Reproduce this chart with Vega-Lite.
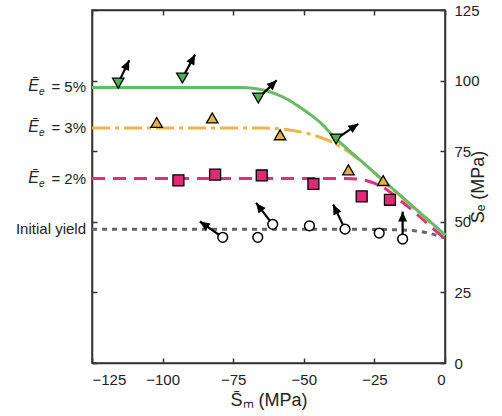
{
  "$schema": "https://vega.github.io/schema/vega-lite/v6.json",
  "width": 353,
  "height": 353,
  "autosize": "none",
  "padding": {"left": 92, "top": 10, "right": 57, "bottom": 53},
  "config": {
    "font": "Liberation Sans",
    "view": {"stroke": "#333333", "strokeWidth": 1.5},
    "axis": {"grid": false, "domainColor": "#333333", "domainWidth": 1.5, "tickColor": "#333333", "tickWidth": 1.5, "labelColor": "#222222", "titleColor": "#222222", "labelFontSize": 15, "titleFontSize": 18, "titleFontWeight": "normal"}
  },
  "datasets": {
    "curves": [
      {"series": "initial", "x": -125, "y": 47.4},
      {"series": "initial", "x": -100, "y": 47.4},
      {"series": "initial", "x": -75, "y": 47.4},
      {"series": "initial", "x": -50, "y": 47.4},
      {"series": "initial", "x": -25, "y": 47.3},
      {"series": "initial", "x": -15, "y": 47.1},
      {"series": "initial", "x": -10, "y": 46.7},
      {"series": "initial", "x": -5, "y": 45.8},
      {"series": "initial", "x": 0, "y": 44.2},
      {"series": "2%", "x": -125, "y": 65.3},
      {"series": "2%", "x": -75, "y": 65.3},
      {"series": "2%", "x": -35, "y": 65.3},
      {"series": "2%", "x": -30, "y": 65.0},
      {"series": "2%", "x": -26, "y": 64.0},
      {"series": "2%", "x": -22, "y": 62.3},
      {"series": "2%", "x": -19, "y": 60.2},
      {"series": "2%", "x": -17, "y": 58.5},
      {"series": "2%", "x": -13, "y": 55.3},
      {"series": "2%", "x": -9, "y": 51.9},
      {"series": "2%", "x": -4, "y": 47.4},
      {"series": "2%", "x": 0, "y": 44.0},
      {"series": "3%", "x": -125, "y": 83.2},
      {"series": "3%", "x": -90, "y": 83.2},
      {"series": "3%", "x": -65, "y": 83.2},
      {"series": "3%", "x": -60, "y": 83.0},
      {"series": "3%", "x": -55, "y": 82.5},
      {"series": "3%", "x": -50, "y": 81.6},
      {"series": "3%", "x": -45, "y": 80.2},
      {"series": "3%", "x": -40, "y": 78.2},
      {"series": "3%", "x": -36, "y": 76.0},
      {"series": "3%", "x": -32, "y": 73.2},
      {"series": "3%", "x": -28, "y": 70.0},
      {"series": "3%", "x": -20, "y": 62.8},
      {"series": "3%", "x": -10, "y": 54.0},
      {"series": "3%", "x": 0, "y": 45.2},
      {"series": "5%", "x": -125, "y": 97.6},
      {"series": "5%", "x": -100, "y": 97.6},
      {"series": "5%", "x": -72, "y": 97.6},
      {"series": "5%", "x": -68, "y": 97.3},
      {"series": "5%", "x": -64, "y": 96.6},
      {"series": "5%", "x": -60, "y": 95.3},
      {"series": "5%", "x": -56, "y": 93.5},
      {"series": "5%", "x": -52, "y": 91.0},
      {"series": "5%", "x": -48, "y": 88.2},
      {"series": "5%", "x": -44, "y": 85.0},
      {"series": "5%", "x": -40, "y": 80.8},
      {"series": "5%", "x": -30, "y": 71.8},
      {"series": "5%", "x": -20, "y": 63.0},
      {"series": "5%", "x": -10, "y": 54.2},
      {"series": "5%", "x": 0, "y": 45.4}
    ],
    "markers": [
      {"series": "5%", "x": -115.7, "y": 99.1},
      {"series": "5%", "x": -93.0, "y": 100.9},
      {"series": "5%", "x": -66.1, "y": 93.8},
      {"series": "5%", "x": -38.6, "y": 79.3},
      {"series": "3%", "x": -102.1, "y": 85.2},
      {"series": "3%", "x": -82.4, "y": 86.8},
      {"series": "3%", "x": -58.4, "y": 80.8},
      {"series": "3%", "x": -34.2, "y": 68.4},
      {"series": "3%", "x": -21.9, "y": 64.6},
      {"series": "2%", "x": -94.4, "y": 64.7},
      {"series": "2%", "x": -81.4, "y": 66.7},
      {"series": "2%", "x": -64.9, "y": 66.4},
      {"series": "2%", "x": -46.6, "y": 63.4},
      {"series": "2%", "x": -29.5, "y": 59.0},
      {"series": "2%", "x": -19.5, "y": 57.8},
      {"series": "initial", "x": -78.7, "y": 44.5},
      {"series": "initial", "x": -66.3, "y": 44.5},
      {"series": "initial", "x": -61.0, "y": 49.1},
      {"series": "initial", "x": -48.0, "y": 48.6},
      {"series": "initial", "x": -35.4, "y": 47.4},
      {"series": "initial", "x": -23.3, "y": 46.0},
      {"series": "initial", "x": -15.0, "y": 43.9}
    ],
    "arrows": [
      {"x": -115.7, "y": 99.1, "x2": -111.8, "y2": 107.2},
      {"x": -93.0, "y": 100.9, "x2": -88.5, "y2": 109.2},
      {"x": -66.1, "y": 93.8, "x2": -59.6, "y2": 100.1},
      {"x": -38.6, "y": 79.3, "x2": -30.7, "y2": 84.7},
      {"x": -78.7, "y": 44.5, "x2": -86.8, "y2": 50.1},
      {"x": -61.0, "y": 49.1, "x2": -66.9, "y2": 56.7},
      {"x": -35.4, "y": 47.4, "x2": -39.6, "y2": 56.1},
      {"x": -15.0, "y": 43.9, "x2": -15.0, "y2": 53.6}
    ],
    "labels": [
      {"x": -125, "y": 97.6, "text": "= 5%", "sym": "Ē", "sub": "e"},
      {"x": -125, "y": 83.2, "text": "= 3%", "sym": "Ē", "sub": "e"},
      {"x": -125, "y": 65.3, "text": "= 2%", "sym": "Ē", "sub": "e"},
      {"x": -125, "y": 47.4, "text": "Initial yield", "sym": "", "sub": ""}
    ]
  },
  "data": {"name": "curves"},
  "layer": [
    {
      "transform": [{"filter": "datum.series === 'initial'"}],
      "mark": {"type": "line", "color": "#666666", "strokeWidth": 3, "strokeDash": [5, 5], "interpolate": "monotone"},
      "encoding": {
        "x": {"field": "x", "type": "quantitative", "scale": {"domain": [-125, 0], "nice": false},
          "axis": {"orient": "bottom", "title": "S̄ₘ (MPa)", "values": [-125, -100, -75, -50, -25, 0], "tickSize": -5, "labelPadding": 14, "titlePadding": 4}},
        "y": {"field": "y", "type": "quantitative", "scale": {"domain": [0, 125], "nice": false},
          "axis": {"orient": "right", "title": "S̄ₑ (MPa)", "titleAngle": -90, "values": [0, 25, 50, 75, 100, 125], "tickSize": -5, "labelPadding": 14, "titlePadding": 8}}
      }
    },
    {
      "transform": [{"filter": "datum.series === '2%'"}],
      "mark": {"type": "line", "color": "#e0307c", "strokeWidth": 3, "strokeDash": [13, 8], "interpolate": "monotone"},
      "encoding": {
        "x": {"field": "x", "type": "quantitative", "axis": {"orient": "top", "labels": false, "title": null, "values": [-125, -100, -75, -50, -25, 0], "tickSize": -5}},
        "y": {"field": "y", "type": "quantitative", "axis": {"orient": "left", "labels": false, "title": null, "values": [0, 25, 50, 75, 100, 125], "tickSize": -5}}
      }
    },
    {
      "transform": [{"filter": "datum.series === '3%'"}],
      "mark": {"type": "line", "color": "#ebb64c", "strokeWidth": 3, "strokeDash": [18, 5, 4, 5], "interpolate": "monotone"},
      "encoding": {
        "x": {"field": "x", "type": "quantitative", "axis": null},
        "y": {"field": "y", "type": "quantitative", "axis": null}
      }
    },
    {
      "transform": [{"filter": "datum.series === '5%'"}],
      "mark": {"type": "line", "color": "#66bb66", "strokeWidth": 3, "interpolate": "monotone"},
      "encoding": {
        "x": {"field": "x", "type": "quantitative", "axis": null},
        "y": {"field": "y", "type": "quantitative", "axis": null}
      }
    },
    {
      "data": {"name": "arrows"},
      "mark": {"type": "rule", "color": "#000000", "strokeWidth": 2.2},
      "encoding": {
        "x": {"field": "x", "type": "quantitative", "axis": null},
        "y": {"field": "y", "type": "quantitative", "axis": null},
        "x2": {"field": "x2"},
        "y2": {"field": "y2"}
      }
    },
    {
      "data": {"name": "arrows"},
      "transform": [{"calculate": "atan2(datum.x2 - datum.x, datum.y2 - datum.y) * 180 / PI", "as": "ang"}],
      "mark": {"type": "point", "shape": "M0,0L1,2.2L-1,2.2Z", "filled": true, "color": "#000000", "opacity": 1, "size": 80},
      "encoding": {
        "x": {"field": "x2", "type": "quantitative", "axis": null},
        "y": {"field": "y2", "type": "quantitative", "axis": null},
        "angle": {"field": "ang", "type": "quantitative", "scale": null}
      }
    },
    {
      "data": {"name": "markers"},
      "transform": [{"filter": "datum.series === 'initial'"}],
      "mark": {"type": "point", "shape": "circle", "filled": true, "fill": "#ffffff", "stroke": "#000000", "strokeWidth": 1.5, "opacity": 1, "size": 95},
      "encoding": {
        "x": {"field": "x", "type": "quantitative", "axis": null},
        "y": {"field": "y", "type": "quantitative", "axis": null}
      }
    },
    {
      "data": {"name": "markers"},
      "transform": [{"filter": "datum.series === '2%'"}],
      "mark": {"type": "point", "shape": "square", "filled": true, "fill": "#e02a78", "stroke": "#000000", "strokeWidth": 1.3, "opacity": 1, "size": 120},
      "encoding": {
        "x": {"field": "x", "type": "quantitative", "axis": null},
        "y": {"field": "y", "type": "quantitative", "axis": null}
      }
    },
    {
      "data": {"name": "markers"},
      "transform": [{"filter": "datum.series === '3%'"}],
      "mark": {"type": "point", "shape": "triangle-up", "filled": true, "fill": "#e8b040", "stroke": "#000000", "strokeWidth": 1.3, "opacity": 1, "size": 130},
      "encoding": {
        "x": {"field": "x", "type": "quantitative", "axis": null},
        "y": {"field": "y", "type": "quantitative", "axis": null}
      }
    },
    {
      "data": {"name": "markers"},
      "transform": [{"filter": "datum.series === '5%'"}],
      "mark": {"type": "point", "shape": "triangle-down", "filled": true, "fill": "#4cb050", "stroke": "#000000", "strokeWidth": 1.3, "opacity": 1, "size": 130},
      "encoding": {
        "x": {"field": "x", "type": "quantitative", "axis": null},
        "y": {"field": "y", "type": "quantitative", "axis": null}
      }
    },
    {
      "data": {"name": "labels"},
      "mark": {"type": "text", "align": "right", "baseline": "middle", "dx": -6, "fontSize": 15, "color": "#222222", "clip": false},
      "encoding": {
        "x": {"field": "x", "type": "quantitative", "axis": null},
        "y": {"field": "y", "type": "quantitative", "axis": null},
        "text": {"field": "text"}
      }
    },
    {
      "data": {"name": "labels"},
      "mark": {"type": "text", "align": "right", "baseline": "middle", "dx": -53, "dy": -1, "fontSize": 16, "fontStyle": "italic", "color": "#222222"},
      "encoding": {
        "x": {"field": "x", "type": "quantitative", "axis": null},
        "y": {"field": "y", "type": "quantitative", "axis": null},
        "text": {"field": "sym"}
      }
    },
    {
      "data": {"name": "labels"},
      "mark": {"type": "text", "align": "left", "baseline": "middle", "dx": -53, "dy": 5, "fontSize": 10, "fontStyle": "italic", "color": "#222222"},
      "encoding": {
        "x": {"field": "x", "type": "quantitative", "axis": null},
        "y": {"field": "y", "type": "quantitative", "axis": null},
        "text": {"field": "sub"}
      }
    }
  ]
}
